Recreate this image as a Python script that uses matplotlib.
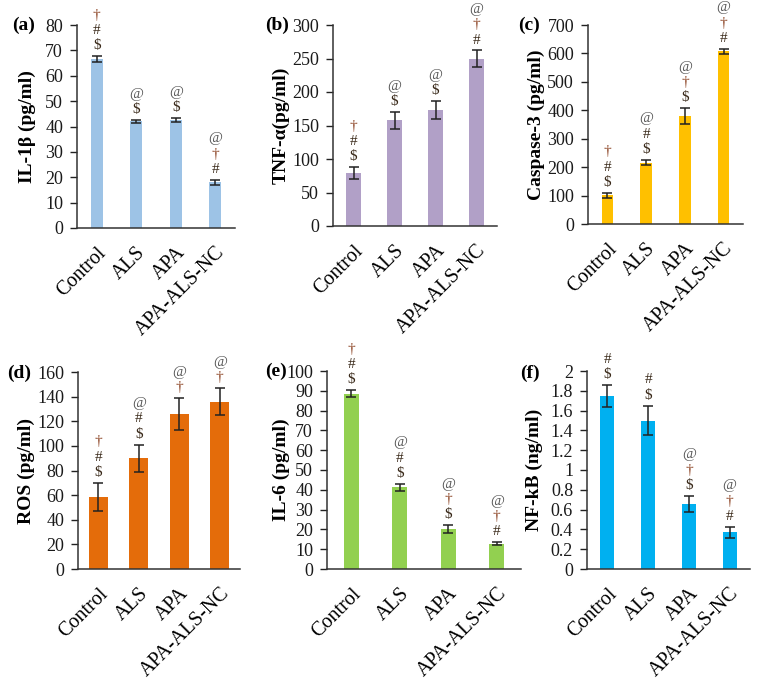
import numpy as np
import matplotlib
matplotlib.use("Agg")
import matplotlib.pyplot as plt

plt.rcParams['font.family'] = ['Liberation Serif', 'DejaVu Serif']

groups = ['Control', 'ALS', 'APA', 'APA-ALS-NC']

# values
il1b = [66.5, 42.0, 42.5, 18.0]
il1b_err = [1.2, 0.6, 0.8, 1.0]
tnfa = [79, 158, 173, 250]
tnfa_err = [9, 12.5, 13, 12]
casp3 = [101, 216, 380, 607]
casp3_err = [9, 10, 27, 9]
ros = [58.5, 90, 126, 136]
ros_err = [11.5, 11, 13, 11]
il6 = [88.6, 41.3, 20.1, 12.8]
il6_err = [1.7, 1.7, 2.1, 0.8]
nfkb = [1.75, 1.50, 0.66, 0.37]
nfkb_err = [0.11, 0.15, 0.08, 0.055]

# significance symbols, bottom to top
sig_a = ['$#†', '$@', '$@', '#†@']
sig_b = ['$#†', '$@', '$@', '#†@']
sig_c = ['$#†', '$#@', '$†@', '#†@']
sig_d = ['$#†', '$#@', '†@', '†@']
sig_e = ['$#†', '$#@', '$†@', '#†@']
sig_f = ['$#', '$#', '$†@', '#†@']

W, H = 760, 689
fig = plt.figure(figsize=(W / 100, H / 100), dpi=100)

def px_axes(l, t, r, b):
    return fig.add_axes([l / W, 1 - b / H, (r - l) / W, (b - t) / H])

sym_color = {'$': '#3a2a1a', '#': '#3a2a1a', '†': '#8a4020', '@': '#555555'}

panels = [
    # box (l, t, r, b), vals, errs, sigs, color, ylabel, ymax, step, barw, tag, tagpos, labx
    ((77, 25, 235, 228), il1b, il1b_err, sig_a, '#9dc3e6', 'IL-1β (pg/ml)', 80, 10, 0.31, '(a)', (12, 25), -0.26),
    ((333, 25, 497, 226), tnfa, tnfa_err, sig_b, '#b1a0c7', 'TNF-α(pg/ml)', 300, 50, 0.36, '(b)', (265, 25), -0.262),
    ((588, 25, 743, 224), casp3, casp3_err, sig_c, '#ffc000', 'Caspase-3 (pg/ml)', 700, 100, 0.30, '(c)', (518, 25), -0.277),
    ((78, 372, 240, 569), ros, ros_err, sig_d, '#e46c0a', 'ROS (pg/ml)', 160, 20, 0.46, '(d)', (7, 373), -0.265),
    ((327, 371, 521, 569), il6, il6_err, sig_e, '#92d050', 'IL-6 (pg/ml)', 100, 10, 0.30, '(e)', (265, 371), -0.19),
    ((587, 371, 750, 569), nfkb, nfkb_err, sig_f, '#00b0f0', 'NF-kB (ng/ml)', 2, 0.2, 0.34, '(f)', (520, 373), -0.27),
]

for box, vals, errs, sigs, color, ylab, ymax, step, bw, tag, tagpos, labx in panels:
    ax = px_axes(*box)
    x = np.arange(len(groups))
    ax.bar(x, vals, width=bw, color=color, zorder=2)
    ax.errorbar(x, vals, yerr=errs, fmt='none', ecolor='#222222', elinewidth=1.1,
                capsize=3.5, capthick=1.1, zorder=3)
    ax.set_xlim(-0.5, 3.5)
    ax.set_ylim(0, ymax)
    ticks = np.arange(0, ymax + step / 2, step)
    ax.set_yticks(ticks)
    if step < 1:
        ax.set_yticklabels([('%g' % t) for t in ticks])
    ax.set_xticks(x)
    ax.set_xticklabels(groups, rotation=45, ha='right', rotation_mode='anchor', fontsize=14.5)
    ax.tick_params(axis='x', length=0, pad=11)
    ax.tick_params(axis='y', length=5, width=1, labelsize=13, pad=5, colors='#222222')
    ax.tick_params(axis='y', labelcolor='#1a1a1a')
    for s in ['top', 'right']:
        ax.spines[s].set_visible(False)
    for s in ['left', 'bottom']:
        ax.spines[s].set_color('#333333')
        ax.spines[s].set_linewidth(1.1)
    ax.set_ylabel(ylab, fontsize=14, fontweight='bold')
    ax.yaxis.set_label_coords(labx, 0.5)
    for i, (v, e, s) in enumerate(zip(vals, errs, sigs)):
        for k, ch in enumerate(s):
            ax.annotate(ch, (i, v + e), xytext=(0, 7.5 + 11 * k), textcoords='offset points',
                        ha='center', va='center', fontsize=11, color=sym_color[ch],
                        annotation_clip=False)
    fig.text(tagpos[0] / W, 1 - tagpos[1] / H, tag, fontsize=14, fontweight='bold',
             ha='left', va='center')

fig.savefig('out.png', dpi=100)
